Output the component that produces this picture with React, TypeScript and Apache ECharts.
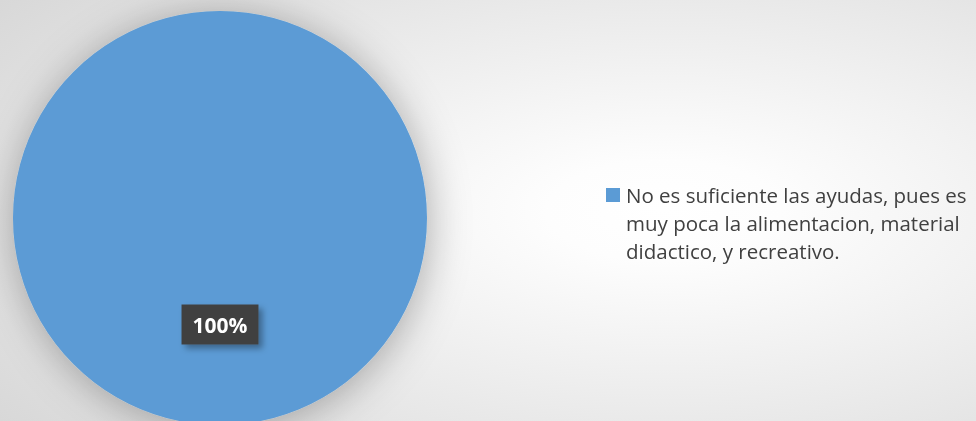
import React, { useEffect, useRef } from "react";
import * as echarts from "echarts";

const categories: string[] = [
  "No es suficiente las ayudas, pues es muy poca la alimentacion, material didactico, y recreativo.",
];
const values: number[] = [100];
const legendLines: string[] = [
  "No es suficiente las ayudas, pues es",
  "muy poca la alimentacion, material",
  "didactico, y recreativo.",
];
const colors: string[] = ["#5b9bd5"];

export default function App() {
  const ref = useRef<HTMLDivElement>(null);
  useEffect(() => {
    if (!ref.current) return;
    const chart = echarts.init(ref.current, null, { renderer: "svg" });
    const total = values.reduce((a, b) => a + b, 0);
    chart.setOption({
      animation: false,
      backgroundColor: new echarts.graphic.RadialGradient(0.68, 0.5, 1.0, [
        { offset: 0, color: "#ffffff" },
        { offset: 0.12, color: "#fdfdfd" },
        { offset: 1, color: "#d0d0d0" },
      ]),
      series: [
        {
          type: "pie",
          center: [220, 218],
          radius: [0, 207],
          startAngle: 90,
          silent: true,
          data: categories.map((c, i) => ({
            name: c,
            value: values[i],
            itemStyle: { color: colors[i] },
          })),
          itemStyle: {
            shadowColor: "rgba(0,0,0,0.3)",
            shadowBlur: 40,
            shadowOffsetX: 2,
            shadowOffsetY: 4,
          },
          label: {
            show: true,
            position: "inside",
            formatter: (p: any) => Math.round((p.value / total) * 100) + "%",
            color: "#ffffff",
            fontFamily: "Open Sans",
            fontWeight: "bold",
            fontSize: 21,
            lineHeight: 22,
            backgroundColor: "#404040",
            padding: [9, 11, 9, 11],
            shadowColor: "rgba(0,0,0,0.35)",
            shadowBlur: 6,
            shadowOffsetX: 4,
            shadowOffsetY: 4,
          },
          labelLine: { show: false },
        },
      ],
      graphic: [
        {
          type: "rect",
          shape: { x: 606, y: 188, width: 14, height: 14 },
          style: { fill: colors[0] },
        },
        {
          type: "text",
          x: 626,
          y: 181,
          style: {
            text: legendLines.join("\n"),
            fill: "#404040",
            fontFamily: "Open Sans",
            fontSize: 20.5,
            lineHeight: 28,
          },
        },
      ],
    });
    return () => chart.dispose();
  }, []);
  return (
    <div
      ref={ref}
      style={{ position: "fixed", left: 0, top: 0, width: 976, height: 421 }}
    />
  );
}
